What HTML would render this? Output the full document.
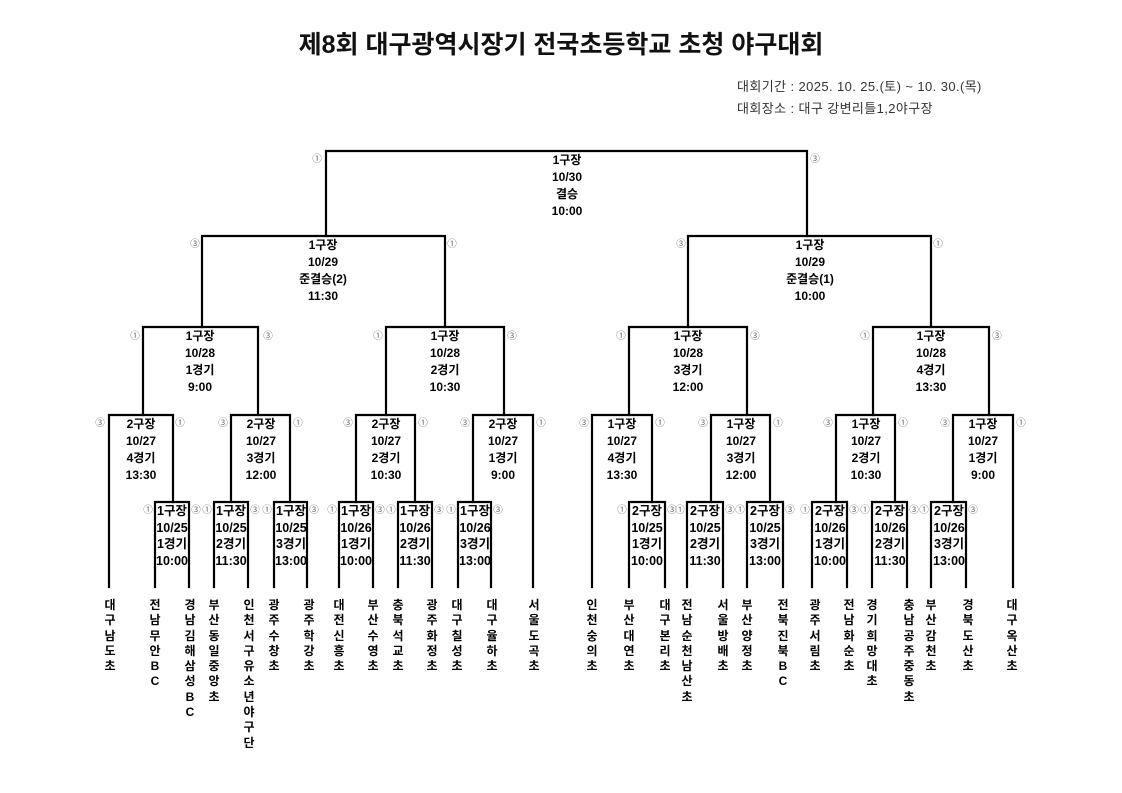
<!DOCTYPE html>
<html><head><meta charset="utf-8">
<style>
html,body{margin:0;padding:0;background:#fff;}
body{width:1122px;height:793px;position:relative;overflow:hidden;font-family:"Liberation Sans","Noto Sans CJK KR",sans-serif;}
.t{position:absolute;left:0;top:25px;width:1122px;text-align:center;font-size:25px;font-weight:bold;color:#111;font-family:"Liberation Sans","Noto Sans CJK KR",sans-serif;}
.info{position:absolute;left:737px;font-size:13px;letter-spacing:0.4px;color:#333;line-height:14px;white-space:nowrap;}
.m{position:absolute;width:100px;margin-left:-50px;text-align:center;font-size:12px;font-weight:bold;line-height:17px;color:#000;white-space:nowrap;}
.s{position:absolute;width:60px;margin-left:-30px;text-align:center;font-size:12.5px;font-weight:bold;line-height:16.7px;color:#000;white-space:nowrap;}
.c{position:absolute;width:14px;margin-left:-7px;text-align:center;font-size:9.5px;color:#666;line-height:12px;}
.n{position:absolute;width:14px;margin-left:-7px;text-align:center;font-size:12px;font-weight:bold;line-height:15.3px;word-break:break-all;color:#000;top:598px;}
svg{position:absolute;left:0;top:0;}
</style></head><body>
<div class="t">제8회 대구광역시장기 전국초등학교 초청 야구대회</div>
<div class="info" style="top:80px">대회기간 : 2025. 10. 25.(토) ~ 10. 30.(목)</div>
<div class="info" style="top:102px">대회장소 : 대구 강변리틀1,2야구장</div>

<svg width="1122" height="793" fill="none" stroke="#000" stroke-width="2.2" stroke-linecap="square">
<polyline points="326,236 326,151 807,151 807,236"/>
<polyline points="202,327 202,236 445,236 445,327"/>
<polyline points="688,327 688,236 931,236 931,327"/>
<polyline points="143,415 143,327 258,327 258,415"/>
<polyline points="386,415 386,327 504,327 504,415"/>
<polyline points="629,415 629,327 747,327 747,415"/>
<polyline points="873,415 873,327 989,327 989,415"/>
<polyline points="109,587 109,415 173,415 173,502"/>
<polyline points="231,502 231,415 290,415 290,502"/>
<polyline points="356,502 356,415 415,415 415,502"/>
<polyline points="473,502 473,415 533,415 533,587"/>
<polyline points="592,587 592,415 652,415 652,502"/>
<polyline points="711,502 711,415 770,415 770,502"/>
<polyline points="836,502 836,415 895,415 895,502"/>
<polyline points="953,502 953,415 1013,415 1013,587"/>
<polyline points="155,587 155,502 189,502 189,587"/>
<polyline points="214,587 214,502 248,502 248,587"/>
<polyline points="274,587 274,502 307,502 307,587"/>
<polyline points="339,587 339,502 373,502 373,587"/>
<polyline points="398,587 398,502 432,502 432,587"/>
<polyline points="458,587 458,502 491,502 491,587"/>
<polyline points="629,587 629,502 665,502 665,587"/>
<polyline points="687,587 687,502 723,502 723,587"/>
<polyline points="747,587 747,502 783,502 783,587"/>
<polyline points="812,587 812,502 847,502 847,587"/>
<polyline points="872,587 872,502 907,502 907,587"/>
<polyline points="931,587 931,502 966,502 966,587"/>
</svg>

<div class="m" style="left:567px;top:152px">1구장<br>10/30<br>결승<br>10:00</div>
<div class="m" style="left:323px;top:237px">1구장<br>10/29<br>준결승(2)<br>11:30</div>
<div class="m" style="left:810px;top:237px">1구장<br>10/29<br>준결승(1)<br>10:00</div>
<div class="m" style="left:200px;top:328px">1구장<br>10/28<br>1경기<br>9:00</div>
<div class="m" style="left:445px;top:328px">1구장<br>10/28<br>2경기<br>10:30</div>
<div class="m" style="left:688px;top:328px">1구장<br>10/28<br>3경기<br>12:00</div>
<div class="m" style="left:931px;top:328px">1구장<br>10/28<br>4경기<br>13:30</div>

<div class="m" style="left:141px;top:416px">2구장<br>10/27<br>4경기<br>13:30</div>
<div class="m" style="left:261px;top:416px">2구장<br>10/27<br>3경기<br>12:00</div>
<div class="m" style="left:386px;top:416px">2구장<br>10/27<br>2경기<br>10:30</div>
<div class="m" style="left:503px;top:416px">2구장<br>10/27<br>1경기<br>9:00</div>
<div class="m" style="left:622px;top:416px">1구장<br>10/27<br>4경기<br>13:30</div>
<div class="m" style="left:741px;top:416px">1구장<br>10/27<br>3경기<br>12:00</div>
<div class="m" style="left:866px;top:416px">1구장<br>10/27<br>2경기<br>10:30</div>
<div class="m" style="left:983px;top:416px">1구장<br>10/27<br>1경기<br>9:00</div>

<div class="s" style="left:172px;top:503px">1구장<br>10/25<br>1경기<br>10:00</div>
<div class="s" style="left:231px;top:503px">1구장<br>10/25<br>2경기<br>11:30</div>
<div class="s" style="left:291px;top:503px">1구장<br>10/25<br>3경기<br>13:00</div>
<div class="s" style="left:356px;top:503px">1구장<br>10/26<br>1경기<br>10:00</div>
<div class="s" style="left:415px;top:503px">1구장<br>10/26<br>2경기<br>11:30</div>
<div class="s" style="left:475px;top:503px">1구장<br>10/26<br>3경기<br>13:00</div>
<div class="s" style="left:647px;top:503px">2구장<br>10/25<br>1경기<br>10:00</div>
<div class="s" style="left:705px;top:503px">2구장<br>10/25<br>2경기<br>11:30</div>
<div class="s" style="left:765px;top:503px">2구장<br>10/25<br>3경기<br>13:00</div>
<div class="s" style="left:830px;top:503px">2구장<br>10/26<br>1경기<br>10:00</div>
<div class="s" style="left:890px;top:503px">2구장<br>10/26<br>2경기<br>11:30</div>
<div class="s" style="left:949px;top:503px">2구장<br>10/26<br>3경기<br>13:00</div>

<div class="c" style="left:317px;top:154px">①</div><div class="c" style="left:815px;top:154px">③</div>
<div class="c" style="left:195px;top:239px">③</div><div class="c" style="left:452px;top:239px">①</div>
<div class="c" style="left:681px;top:239px">③</div><div class="c" style="left:938px;top:239px">①</div>
<div class="c" style="left:135px;top:331px">①</div><div class="c" style="left:268px;top:331px">③</div>
<div class="c" style="left:378px;top:331px">①</div><div class="c" style="left:512px;top:331px">③</div>
<div class="c" style="left:621px;top:331px">①</div><div class="c" style="left:755px;top:331px">③</div>
<div class="c" style="left:865px;top:331px">①</div><div class="c" style="left:997px;top:331px">③</div>

<div class="c" style="left:100px;top:418px">③</div><div class="c" style="left:180px;top:418px">①</div>
<div class="c" style="left:223px;top:418px">③</div><div class="c" style="left:298px;top:418px">①</div>
<div class="c" style="left:348px;top:418px">③</div><div class="c" style="left:423px;top:418px">①</div>
<div class="c" style="left:465px;top:418px">③</div><div class="c" style="left:541px;top:418px">①</div>
<div class="c" style="left:584px;top:418px">③</div><div class="c" style="left:660px;top:418px">①</div>
<div class="c" style="left:703px;top:418px">③</div><div class="c" style="left:778px;top:418px">①</div>
<div class="c" style="left:828px;top:418px">③</div><div class="c" style="left:903px;top:418px">①</div>
<div class="c" style="left:945px;top:418px">③</div><div class="c" style="left:1021px;top:418px">①</div>

<div class="c" style="left:148px;top:505px">①</div><div class="c" style="left:196px;top:505px">③</div>
<div class="c" style="left:207px;top:505px">①</div><div class="c" style="left:255px;top:505px">③</div>
<div class="c" style="left:267px;top:505px">①</div><div class="c" style="left:314px;top:505px">③</div>
<div class="c" style="left:332px;top:505px">①</div><div class="c" style="left:380px;top:505px">③</div>
<div class="c" style="left:391px;top:505px">①</div><div class="c" style="left:439px;top:505px">③</div>
<div class="c" style="left:451px;top:505px">①</div><div class="c" style="left:498px;top:505px">③</div>
<div class="c" style="left:622px;top:505px">①</div><div class="c" style="left:672px;top:505px">③</div>
<div class="c" style="left:680px;top:505px">①</div><div class="c" style="left:730px;top:505px">③</div>
<div class="c" style="left:740px;top:505px">①</div><div class="c" style="left:790px;top:505px">③</div>
<div class="c" style="left:805px;top:505px">①</div><div class="c" style="left:854px;top:505px">③</div>
<div class="c" style="left:865px;top:505px">①</div><div class="c" style="left:914px;top:505px">③</div>
<div class="c" style="left:924px;top:505px">①</div><div class="c" style="left:973px;top:505px">③</div>

<div class="n" style="left:110px">대구남도초</div>
<div class="n" style="left:155px">전남무안BC</div>
<div class="n" style="left:190px">경남김해삼성BC</div>
<div class="n" style="left:214px">부산동일중앙초</div>
<div class="n" style="left:249px">인천서구유소년야구단</div>
<div class="n" style="left:274px">광주수창초</div>
<div class="n" style="left:309px">광주학강초</div>
<div class="n" style="left:339px">대전신흥초</div>
<div class="n" style="left:373px">부산수영초</div>
<div class="n" style="left:398px">충북석교초</div>
<div class="n" style="left:432px">광주화정초</div>
<div class="n" style="left:457px">대구칠성초</div>
<div class="n" style="left:492px">대구율하초</div>
<div class="n" style="left:534px">서울도곡초</div>
<div class="n" style="left:592px">인천숭의초</div>
<div class="n" style="left:629px">부산대연초</div>
<div class="n" style="left:665px">대구본리초</div>
<div class="n" style="left:687px">전남순천남산초</div>
<div class="n" style="left:723px">서울방배초</div>
<div class="n" style="left:747px">부산양정초</div>
<div class="n" style="left:783px">전북진북BC</div>
<div class="n" style="left:815px">광주서림초</div>
<div class="n" style="left:849px">전남화순초</div>
<div class="n" style="left:872px">경기희망대초</div>
<div class="n" style="left:909px">충남공주중동초</div>
<div class="n" style="left:931px">부산감천초</div>
<div class="n" style="left:968px">경북도산초</div>
<div class="n" style="left:1012px">대구옥산초</div>
</body></html>
